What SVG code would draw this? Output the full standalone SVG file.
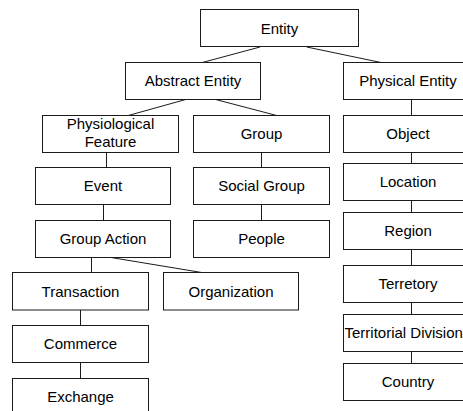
<svg xmlns="http://www.w3.org/2000/svg" width="463" height="411" viewBox="0 0 463 411">
<style>
rect{fill:#fff;stroke:#1a1a1a;stroke-width:1}
text{font-family:"Liberation Sans",Arial,sans-serif;font-size:15px;fill:#000;text-anchor:middle}
.c line{stroke:#1a1a1a;stroke-width:1}
</style>
<rect x="0" y="0" width="463" height="411" style="stroke:none"/>
<g class="c" id="connectors">
<line x1="260" y1="47" x2="202.3" y2="62.5"/>
<line x1="306.7" y1="47" x2="381" y2="62.5"/>
<line x1="185.7" y1="99.5" x2="128.3" y2="115.5"/>
<line x1="215.7" y1="99.5" x2="276.7" y2="115.5"/>
<line x1="411.5" y1="99.5" x2="411.5" y2="115.5"/>
<line x1="106.5" y1="152.5" x2="106.5" y2="167.5"/>
<line x1="261.5" y1="152.5" x2="261.5" y2="167.5"/>
<line x1="411.5" y1="152.5" x2="411.5" y2="163.5"/>
<line x1="103.5" y1="204.5" x2="103.5" y2="220.5"/>
<line x1="261.5" y1="204.5" x2="261.5" y2="220.5"/>
<line x1="411.5" y1="200.5" x2="411.5" y2="212.5"/>
<line x1="91.5" y1="257.5" x2="91.5" y2="272.5"/>
<line x1="111" y1="257.5" x2="201.7" y2="272.5"/>
<line x1="411.5" y1="249.5" x2="411.5" y2="265.5"/>
<line x1="80.5" y1="310" x2="80.5" y2="325.5"/>
<line x1="80.5" y1="362.5" x2="80.5" y2="378.5"/>
<line x1="411.5" y1="302.5" x2="411.5" y2="314.5"/>
<line x1="411.5" y1="351.5" x2="411.5" y2="363.5"/>
</g>
<g id="entity"><rect x="200.5" y="9.5" width="158" height="37"/><text x="279.5" y="33.5">Entity</text></g>
<g id="abstract-entity"><rect x="125.5" y="62.5" width="135" height="37"/><text x="193" y="86.3">Abstract Entity</text></g>
<g id="physical-entity"><rect x="343.5" y="62.5" width="130" height="37"/><text x="408" y="86.3">Physical Entity</text></g>
<g id="physiological-feature"><rect x="42.5" y="115.5" width="136" height="37"/><text x="110.5" y="129.3">Physiological</text><text x="110.5" y="147">Feature</text></g>
<g id="group"><rect x="193.5" y="115.5" width="136" height="37"/><text x="261.5" y="139.3">Group</text></g>
<g id="object"><rect x="343.5" y="115.5" width="130" height="37"/><text x="408" y="139.3">Object</text></g>
<g id="event"><rect x="35.5" y="167.5" width="135" height="37"/><text x="103" y="191.3">Event</text></g>
<g id="social-group"><rect x="193.5" y="167.5" width="136" height="37"/><text x="261.5" y="191.3">Social Group</text></g>
<g id="location"><rect x="343.5" y="163.5" width="130" height="37"/><text x="408" y="187.3">Location</text></g>
<g id="group-action"><rect x="35.5" y="220.5" width="135" height="37"/><text x="103" y="244.3">Group Action</text></g>
<g id="people"><rect x="193.5" y="220.5" width="136" height="37"/><text x="261.5" y="244.3">People</text></g>
<g id="region"><rect x="343.5" y="212.5" width="130" height="37"/><text x="408" y="236.3">Region</text></g>
<g id="transaction"><rect x="12.5" y="272.5" width="136" height="37.5"/><text x="80.5" y="296.5">Transaction</text></g>
<g id="organization"><rect x="163.5" y="272.5" width="135" height="37.5"/><text x="231" y="296.5">Organization</text></g>
<g id="commerce"><rect x="12.5" y="325.5" width="136" height="37"/><text x="80.5" y="349.3">Commerce</text></g>
<g id="exchange"><rect x="12.5" y="378.5" width="136" height="40"/><text x="80.5" y="401.5">Exchange</text></g>
<g id="terretory"><rect x="343.5" y="265.5" width="130" height="37"/><text x="408" y="289.3">Terretory</text></g>
<g id="territorial-division"><rect x="343.5" y="314.5" width="130" height="37"/><text x="344.5" y="338.3" style="text-anchor:start">Territorial Division</text></g>
<g id="country"><rect x="343.5" y="363.5" width="130" height="37"/><text x="408" y="387.3">Country</text></g>
</svg>
